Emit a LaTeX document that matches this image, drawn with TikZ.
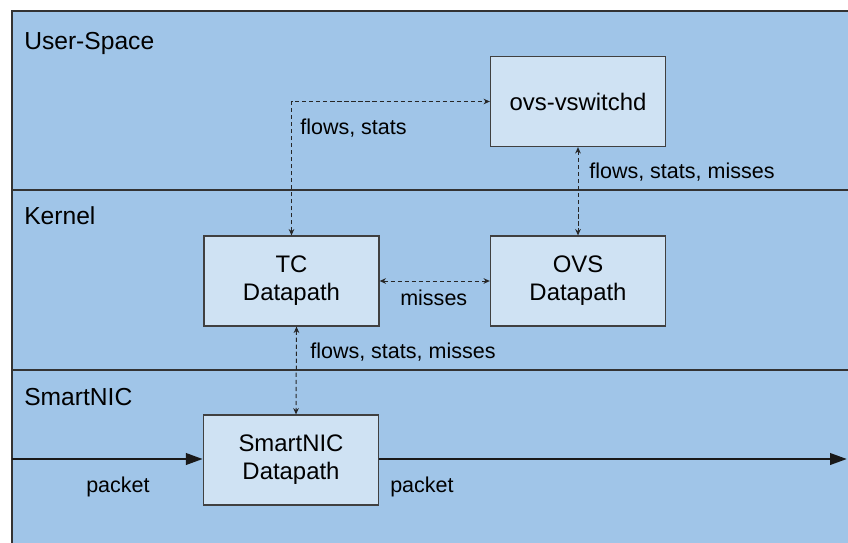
\documentclass[tikz,border=0pt]{standalone}
\usepackage{fontspec}
\setmainfont{Liberation Sans}
\usetikzlibrary{arrows.meta}

\begin{document}
\begin{tikzpicture}[x=0.025cm, y=-0.025cm]
    % Define styles for nodes and edges
    \tikzset{
        pathbox/.style={draw=black!75, line width=0.9pt, fill=boxblue, align=center,
            minimum width=4.375cm, minimum height=2.25cm, inner sep=0pt,
            font=\fontsize{17}{20}\selectfont},
        layerlabel/.style={anchor=west, inner sep=0pt, font=\fontsize{17.5}{20}\selectfont},
        msglabel/.style={anchor=west, inner sep=0pt, font=\fontsize{15.3}{18}\selectfont},
        msg/.style={draw=black!85, line width=0.7pt, dash pattern=on 3pt off 2pt,
            {Stealth[length=4.5pt,width=4pt]}-{Stealth[length=4.5pt,width=4pt]}},
        pkt/.style={draw=black!90, line width=2pt, -{Triangle[length=12pt,width=8pt]}}
    }
    \definecolor{layerblue}{RGB}{160,197,232} % background
    \definecolor{boxblue}{RGB}{207,226,243}   % boxes

    \useasboundingbox (0,0) rectangle (848,542);
    \fill[white] (0,0) rectangle (848,542);
    \clip (0,0) rectangle (848,542);

    % ==========================================
    % LAYERS
    % ==========================================
    \filldraw[fill=layerblue, draw=black!80, line width=1.1pt] (12,11) rectangle (870,570);
    \draw[black!80, line width=1.1pt] (12,190) -- (870,190);
    \draw[black!80, line width=1.1pt] (12,370) -- (870,370);

    \node[layerlabel] (userspace) at (24,43) {User-Space};
    \node[layerlabel] (kernel) at (24,216) {Kernel};
    \node[layerlabel] (smartnic) at (24,397) {SmartNIC};

    % ==========================================
    % BOXES
    % ==========================================
    \node[pathbox] (vswitchd) at (578,101.5) {ovs-vswitchd};
    \node[pathbox] (tcdp) at (291.5,281) {TC\\Datapath};
    \node[pathbox] (ovsdp) at (578,281) {OVS\\Datapath};
    \node[pathbox] (nicdp) at (291,460) {SmartNIC\\Datapath};

    % ==========================================
    % CONNECTORS
    % ==========================================
    \draw[msg] (tcdp.north) |- (vswitchd.west);
    \draw[msg] (vswitchd.south) -- (ovsdp.north);
    \draw[msg] (tcdp.east) -- (ovsdp.west);
    \draw[msg] ([xshift=5*0.025cm]tcdp.south) -- ([xshift=5*0.025cm]nicdp.north);

    \node[msglabel] (fsup) at (300,128) {flows, stats};
    \node[msglabel] (fsmup) at (589,172) {flows, stats, misses};
    \node[msglabel] (missesl) at (400,298) {misses};
    \node[msglabel] (fsmdown) at (310,352) {flows, stats, misses};

    % packets through the SmartNIC
    \coordinate (pktin) at (12,459);
    \coordinate (pktout) at (847,459);
    \draw[pkt] (pktin) -- (pktin -| nicdp.west);
    \draw[pkt] (pktout -| nicdp.east) -- (pktout);

    \node[msglabel] (pktinl) at (86,487) {packet};
    \node[msglabel] (pktoutl) at (390,487) {packet};

\end{tikzpicture}
\end{document}
